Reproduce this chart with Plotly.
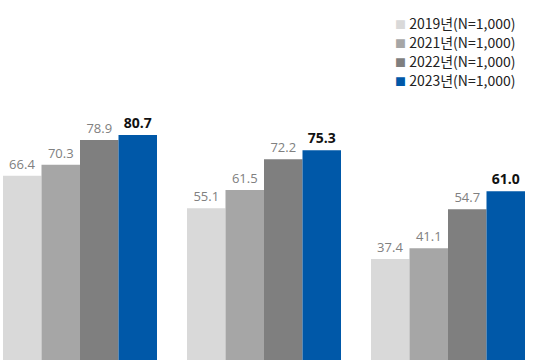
import plotly.graph_objects as go

categories = [0, 1, 2]
series_names = ["2019년(N=1,000)", "2021년(N=1,000)", "2022년(N=1,000)", "2023년(N=1,000)"]
v2019 = [66.4, 55.1, 37.4]
v2021 = [70.3, 61.5, 41.1]
v2022 = [78.9, 72.2, 54.7]
v2023 = [80.7, 75.3, 61.0]

colors = ["#d9d9d9", "#a6a6a6", "#7f7f7f", "#0058a8"]
values = [v2019, v2021, v2022, v2023]

fig = go.Figure()
for i, (name, vals, col) in enumerate(zip(series_names, values, colors)):
    last = i == 3
    fig.add_trace(go.Bar(
        x=categories, y=vals, name=name,
        marker=dict(color=col, line=dict(width=0)),
        text=[f"{v:.1f}" for v in vals],
        texttemplate="<b>%{text}</b>" if last else "%{text}",
        textposition="outside",
        cliponaxis=False,
        showlegend=False,
        hoverinfo="skip",
        textfont=dict(family="Open Sans, Noto Sans, sans-serif",
                      size=14 if last else 13,
                      color="#111111" if last else "#808080"),
    ))

# legend drawn as text rows (square glyph + label), built from the series lists
for i, (n, c) in enumerate(zip(series_names, colors)):
    fig.add_annotation(
        x=1, y=1, xref="paper", yref="paper",
        xanchor="right", yanchor="middle", xshift=-20, yshift=-23 - 19 * i,
        text=f"<span style='color:{c};font-size:11px'>■</span> {n}",
        showarrow=False, align="left",
        font=dict(family="Noto Sans CJK KR, sans-serif", size=14, color="#222222"),
    )

fig.update_layout(
    width=537, height=360,
    margin=dict(l=0, r=0, t=0, b=0, autoexpand=False),
    paper_bgcolor="white", plot_bgcolor="white",
    barmode="group", bargap=0.163, bargroupgap=0,
    showlegend=False,
)
fig.update_xaxes(range=[-80/184, (537-80)/184], visible=False)
fig.update_yaxes(range=[2.1, 127.8], visible=False)

fig.write_html("out.html", config={"displayModeBar": False},
               post_script="document.body.style.margin='0';document.body.style.overflow='hidden';")
